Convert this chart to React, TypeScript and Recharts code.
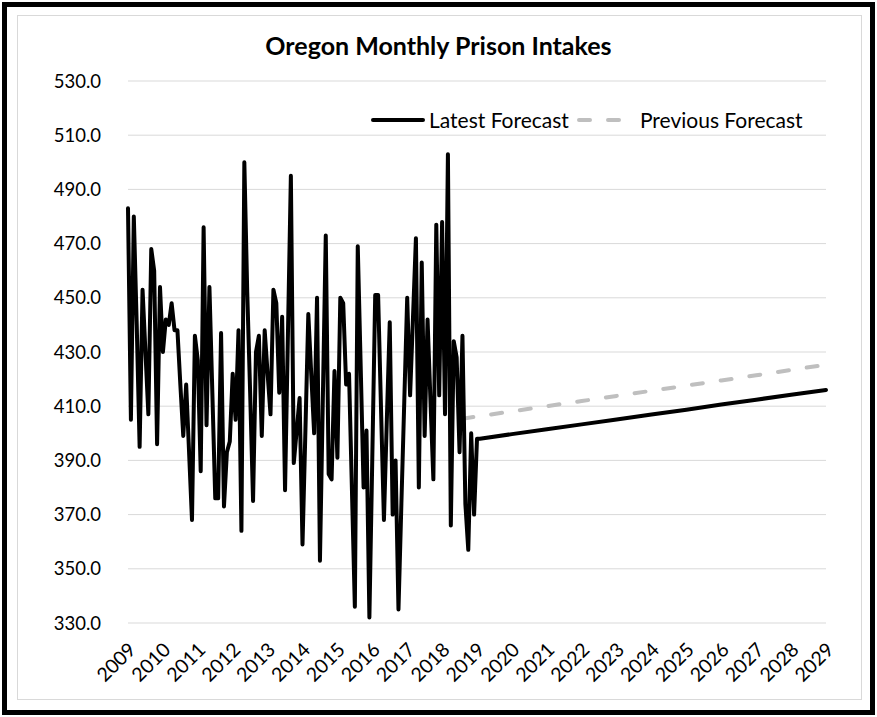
import React from 'react';
import { LineChart, Line, XAxis, YAxis, CartesianGrid } from 'recharts';

// year labels on the x axis (one per January)
const years = [
  '2009', '2010', '2011', '2012', '2013', '2014', '2015', '2016', '2017', '2018', '2019',
  '2020', '2021', '2022', '2023', '2024', '2025', '2026', '2027', '2028', '2029',
];

// monthly intakes, Jan 2009 .. Jan 2019
const actualIntakes = [
  483, 405, 480, 440, 395, 453, 430, 407, 468, 460, 396, 454, // 2009
  430, 442, 440, 448, 438, 438, 418, 399, 418, 393, 368, 436, // 2010
  427, 386, 476, 403, 454, 415, 376, 376, 437, 373, 393, 397, // 2011
  422, 405, 438, 364, 500, 452, 415, 375, 430, 436, 399, 438, // 2012
  422, 407, 453, 448, 415, 443, 379, 437, 495, 389, 401, 413, // 2013
  359, 401, 444, 422, 400, 450, 353, 413, 473, 385, 383, 423, // 2014
  391, 450, 448, 418, 422, 379, 336, 469, 425, 380, 401, 332, // 2015
  391, 451, 451, 409, 368, 405, 441, 370, 390, 335, 374, 412, // 2016
  450, 414, 443, 472, 380, 463, 399, 442, 412, 383, 477, 414, // 2017
  478, 407, 503, 366, 434, 428, 393, 436, 374, 357, 400, 370, // 2018
  398, // Jan 2019
];

// forecast values read at the start and at each January (month index from Jan 2009)
const latestForecastMonths = [121, 132, 144, 156, 168, 180, 192, 204, 216, 228, 240];
const latestForecast = [398.0, 399.7, 401.5, 403.3, 405.1, 406.9, 408.7, 410.6, 412.4, 414.2, 416.0];

const previousForecastMonths = [115, 120, 132, 144, 156, 168, 180, 192, 204, 216, 228, 240];
const previousForecast = [405.4, 406.2, 408.1, 410.0, 411.9, 413.8, 415.7, 417.6, 419.5, 421.4, 423.4, 425.3];

const yTicks = [330, 350, 370, 390, 410, 430, 450, 470, 490, 510, 530];

const FONT = 'Lato, "Open Sans", sans-serif';
const TOTAL_MONTHS = 240;

const data = Array.from({ length: TOTAL_MONTHS + 1 }, (_, i) => {
  const row: { m: number; latest: number | null; previous: number | null } = { m: i, latest: null, previous: null };
  if (i < actualIntakes.length) row.latest = actualIntakes[i];
  const li = latestForecastMonths.indexOf(i);
  if (li >= 0) row.latest = latestForecast[li];
  const pi = previousForecastMonths.indexOf(i);
  if (pi >= 0) row.previous = previousForecast[pi];
  return row;
});

const xTicks = years.map((_, i) => i * 12);

const YearTick = ({ x, y, payload }: any) => (
  <g transform={`translate(${x - 1},${y + 10})`}>
    <text transform="rotate(-45)" textAnchor="end" dy="0.72em" fontSize={19.5} fill="#000" fontFamily={FONT}>
      {years[payload.value / 12]}
    </text>
  </g>
);

export default function App() {
  return (
    <div style={{ position: 'absolute', left: 0, top: 0, width: 877, height: 717, background: '#fff', fontFamily: FONT }}>
      <div style={{ position: 'absolute', left: 2, top: 2, width: 873, height: 713, border: '5px solid #000', boxSizing: 'border-box' }} />
      <div style={{ position: 'absolute', left: 17, top: 15, width: 845, height: 685, border: '1px solid #d9d9d9', boxSizing: 'border-box' }} />
      <div style={{ position: 'absolute', left: 0, top: 30, width: 877, textAlign: 'center', fontSize: 25, fontWeight: 700, color: '#000' }}>
        Oregon Monthly Prison Intakes
      </div>

      <LineChart
        width={877}
        height={717}
        data={data}
        margin={{ top: 81, right: 51, bottom: 34, left: 18 }}
        style={{ position: 'absolute', left: 0, top: 0 }}
      >
        <CartesianGrid vertical={false} stroke="#d9d9d9" strokeWidth={1} />
        <XAxis
          dataKey="m"
          type="number"
          domain={[0, TOTAL_MONTHS]}
          ticks={xTicks}
          interval={0}
          axisLine={false}
          tickLine={false}
          tick={<YearTick />}
          height={60}
        />
        <YAxis
          type="number"
          domain={[330, 530]}
          ticks={yTicks}
          interval={0}
          width={110}
          axisLine={false}
          tickLine={false}
          tickSize={0}
          tickMargin={27}
          tickFormatter={(v: number) => v.toFixed(1)}
          tick={{ fill: '#000', fontSize: 18.5, fontFamily: FONT }}
        />
        <Line
          type="linear"
          dataKey="previous"
          stroke="#bfbfbf"
          strokeWidth={4}
          strokeDasharray="11 18"
          strokeLinecap="round"
          dot={false}
          connectNulls
          isAnimationActive={false}
        />
        <Line
          type="linear"
          dataKey="latest"
          stroke="#000"
          strokeWidth={4}
          strokeLinejoin="round"
          strokeLinecap="round"
          dot={false}
          connectNulls
          isAnimationActive={false}
        />
      </LineChart>

      {/* legend */}
      <div style={{ position: 'absolute', left: 370, top: 107, display: 'flex', alignItems: 'center', fontSize: 21, color: '#000' }}>
        <svg width={56} height={10}>
          <line x1={3} y1={5} x2={53} y2={5} stroke="#000" strokeWidth={4} strokeLinecap="round" />
        </svg>
        <span style={{ marginLeft: 3 }}>Latest Forecast</span>
        <svg width={60} height={10} style={{ marginLeft: 6 }}>
          <line x1={4} y1={5} x2={56} y2={5} stroke="#bfbfbf" strokeWidth={4} strokeDasharray="11 18" strokeLinecap="round" />
        </svg>
        <span style={{ marginLeft: 5 }}>Previous Forecast</span>
      </div>
    </div>
  );
}
